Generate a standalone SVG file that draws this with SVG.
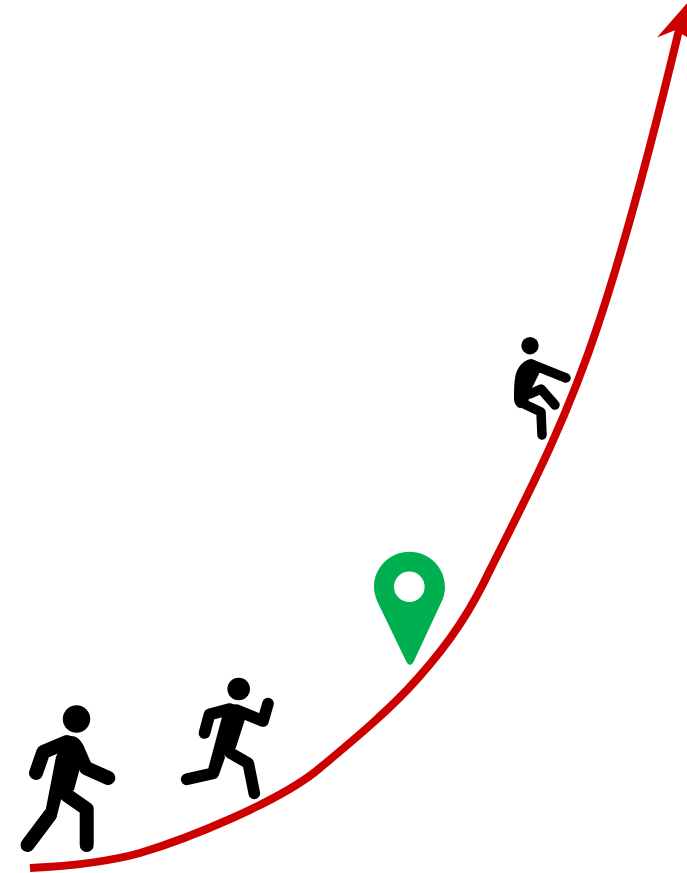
<svg xmlns="http://www.w3.org/2000/svg" width="687" height="873" viewBox="0 0 687 873">
<style>
.limb{fill:none;stroke:#000;stroke-linecap:round;stroke-linejoin:round}
.w{stroke-width:14}.r{stroke-width:11.700}.c{stroke-width:9.500}
</style>
<rect width="687" height="873" fill="#fff"/>
<g id="connectors">
<path d="M30,868 C70,866 108,862 140,853 C190,838 275,803 315,772 C350,743 390,710 418,678 C452,640 472,608 490,570 C525,500 565,425 598,325 C628,235 655,130 679,30" fill="none" stroke="#cc0000" stroke-width="8"/>
<path d="M688,2 L657,37.500 L675.500,30 L688,38 Z" fill="#cc0000"/>
</g>
<g id="walker">
<circle cx="76.500" cy="719" r="13.700"/>
<path d="M65,738 L70,736 Q78,735 83.300,745 L92.700,766.700 L80,768 L74,790 L61.700,797 L56.700,816.700 L45,813.300 L56,756.700 Z"/>
<path class="limb w" d="M67,742 L43.300,752 L36,773"/>
<path class="limb w" d="M86,768 L108.300,778"/>
<path class="limb w" d="M50,815 L27.500,845"/>
<path class="limb w" d="M66.700,795 L86.700,809 L86.700,845"/>
</g>
<g id="runner">
<circle cx="238.700" cy="689" r="11.300"/>
<path d="M226,706 L233.300,704 L245,719.300 L235.700,748.300 L224,755 L218.300,775 L208.300,768.300 L221.700,718 Z"/>
<path class="limb r" d="M230,709 L209.500,714.500 L204.500,733"/>
<path class="limb r" d="M236,710 L263,721 L268,703.500"/>
<path class="limb r" d="M230,752.700 L248.300,763.300 L254.300,793.300"/>
<path class="limb r" d="M219,757 L213.300,773.300 L186.700,779.300"/>
</g>
<g id="climber">
<circle cx="530" cy="345.700" r="8.700"/>
<path d="M531.700,359.300 C524,359.500 519,366 516.500,372 C514,379 514,390 514,400 Q515,406 520,408.300 L528.300,401.700 L530.700,390.700 L540,371.700 L536,361 Z"/>
<path class="limb c" d="M531,364 L566,378"/>
<path class="limb c" d="M520,402 L541,412 L542,435"/>
<path class="limb c" d="M530,394 L541,389 L555,405"/>
</g>
<g id="pin">
<path d="M409.500,551.700 C429,551.700 445,567.500 445,587 C445,592 444,597 441,603 L413.500,662 Q410,668 406.500,662 L378,603 C375.500,597 374,592 374,587 C374,567.500 390,551.700 409.500,551.700 Z" fill="#00b050"/>
<circle cx="409.300" cy="586.700" r="15.300" fill="#fff"/>
</g>
</svg>
